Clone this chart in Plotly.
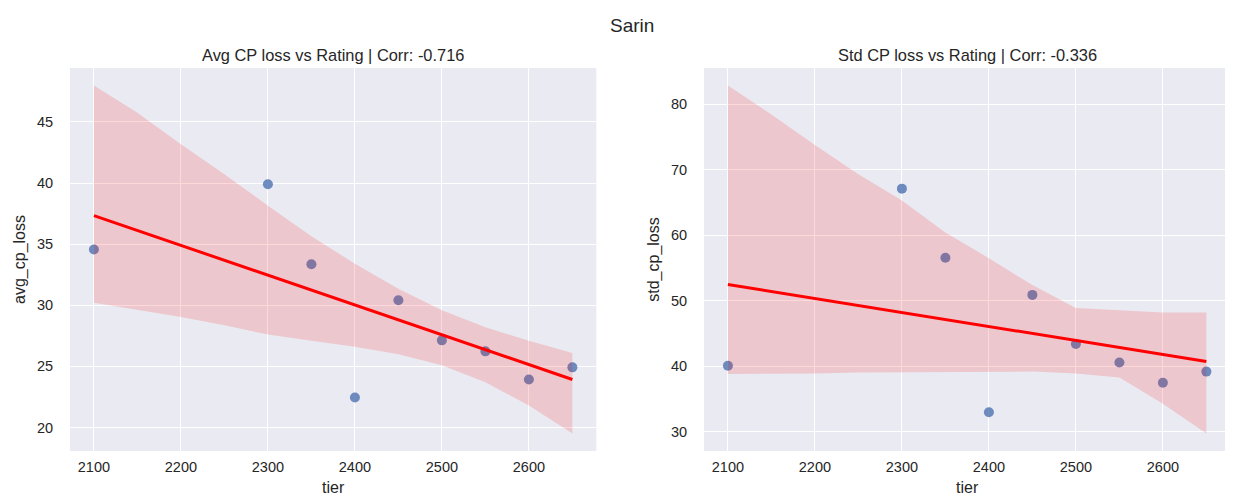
import numpy as np
import plotly.graph_objects as go

# ---- data ----
tiers = [2100, 2300, 2350, 2400, 2450, 2500, 2550, 2600, 2650]
avg_cp_loss = [34.57, 39.9, 33.35, 22.46, 30.41, 27.13, 26.23, 23.93, 24.92]
std_cp_loss = [40.1, 67.1, 56.55, 33.0, 50.9, 43.4, 40.6, 37.5, 39.2]

band_x = [2100, 2150, 2200, 2250, 2300, 2350, 2400, 2450, 2500, 2550, 2600, 2650]
avg_upper = [47.99, 45.76, 43.18, 40.73, 38.15, 35.65, 33.4, 31.36, 29.6, 28.2, 27.1, 26.1]
avg_lower = [30.2, 29.6, 29.04, 28.36, 27.6, 27.1, 26.6, 26.0, 25.1, 23.7, 21.8, 19.5]
std_upper = [82.84, 78.4, 73.76, 69.3, 65.3, 60.4, 56.5, 52.4, 48.9, 48.5, 48.2, 48.2]
std_lower = [38.84, 38.85, 38.9, 39.05, 39.1, 39.15, 39.2, 39.2, 38.9, 38.3, 34.3, 29.75]

suptitle = "Sarin"
titles = ["Avg CP loss vs Rating | Corr: -0.716", "Std CP loss vs Rating | Corr: -0.336"]
ylabels = ["avg_cp_loss", "std_cp_loss"]
xlabel = "tier"
xticks = [2100, 2200, 2300, 2400, 2500, 2600]

# ---- styling ----
W, H = 1233, 502
BG = "#EAEAF2"
PT = "rgba(76,114,176,0.8)"
BAND = "rgba(255,0,0,0.15)"
TXT = "#262626"
FONT = "Liberation Sans, Arial, sans-serif"

fig = go.Figure()

panels = [
    (avg_cp_loss, avg_upper, avg_lower, "x", "y"),
    (std_cp_loss, std_upper, std_lower, "x2", "y2"),
]

for vals, up, lo, xa, ya in panels:
    fig.add_trace(go.Scatter(x=tiers, y=vals, mode="markers", xaxis=xa, yaxis=ya,
                             marker=dict(size=10, color=PT, line=dict(width=0)),
                             showlegend=False, hoverinfo="skip"))
    fig.add_trace(go.Scatter(x=band_x, y=up, mode="lines", xaxis=xa, yaxis=ya,
                             line=dict(width=0, color=BAND), showlegend=False, hoverinfo="skip"))
    fig.add_trace(go.Scatter(x=band_x, y=lo, mode="lines", xaxis=xa, yaxis=ya, fill="tonexty",
                             fillcolor=BAND, line=dict(width=0, color=BAND),
                             showlegend=False, hoverinfo="skip"))
    slope, icpt = np.polyfit(tiers, vals, 1)
    lx = np.array([min(tiers), max(tiers)], dtype=float)
    fig.add_trace(go.Scatter(x=lx, y=slope * lx + icpt, mode="lines", xaxis=xa, yaxis=ya,
                             line=dict(color="red", width=3), showlegend=False, hoverinfo="skip"))

def rng(lo, hi):
    s = hi - lo
    return [lo - 0.05 * s, hi + 0.05 * s]

xr = rng(min(tiers), max(tiers))
yr1 = rng(min(avg_lower + avg_cp_loss), max(avg_upper + avg_cp_loss))
yr2 = rng(min(std_lower + std_cp_loss), max(std_upper + std_cp_loss))

ytop, ybot = 60, 443
ydom = [(H - ybot) / H, (H - ytop) / H]
x1dom = [62 / W, 588.3 / W]
x2dom = [696 / W, 1222.3 / W]

axis_common = dict(showgrid=True, gridcolor="white", gridwidth=1, zeroline=False,
                   showline=False, ticks="outside", tickcolor="rgba(0,0,0,0)",
                   tickfont=dict(size=14.5, color=TXT, family=FONT),
                   automargin=False, title_font=dict(size=16, color=TXT, family=FONT))

fig.update_layout(
    width=W, height=H,
    margin=dict(l=0, r=0, t=0, b=0),
    paper_bgcolor="white", plot_bgcolor=BG,
    font=dict(family=FONT, color=TXT),
    xaxis=dict(domain=x1dom, range=xr, tickvals=xticks, anchor="y", ticklen=3,
               title=dict(text=xlabel, standoff=7), **axis_common),
    yaxis=dict(domain=ydom, range=yr1, dtick=5, anchor="x", ticklen=13,
               title=dict(text=ylabels[0], standoff=7), **axis_common),
    xaxis2=dict(domain=x2dom, range=xr, tickvals=xticks, anchor="y2", ticklen=3,
                title=dict(text=xlabel, standoff=7), **axis_common),
    yaxis2=dict(domain=ydom, range=yr2, dtick=10, anchor="x2", ticklen=13,
                title=dict(text=ylabels[1], standoff=7), **axis_common),
    annotations=[
        dict(text=suptitle, x=624 / W, y=1 - 18 / H, xref="paper", yref="paper",
             showarrow=False, font=dict(size=19, color=TXT, family=FONT),
             xanchor="center", yanchor="middle"),
        dict(text=titles[0], x=(x1dom[0] + x1dom[1]) / 2, y=1 - 47 / H, xref="paper", yref="paper",
             showarrow=False, font=dict(size=16.4, color=TXT, family=FONT),
             xanchor="center", yanchor="middle"),
        dict(text=titles[1], x=(x2dom[0] + x2dom[1]) / 2, y=1 - 47 / H, xref="paper", yref="paper",
             showarrow=False, font=dict(size=16.4, color=TXT, family=FONT),
             xanchor="center", yanchor="middle"),
    ],
)

fig.write_html("out.html")
